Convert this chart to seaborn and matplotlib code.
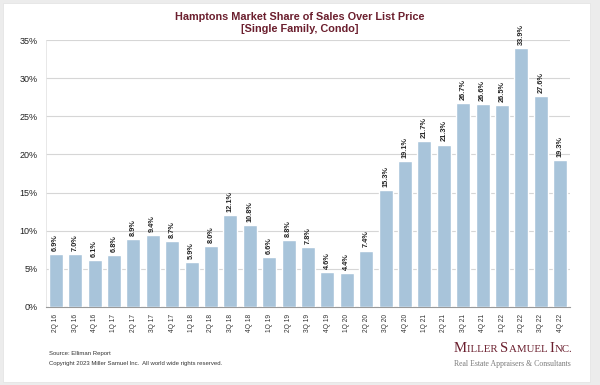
import numpy as np
import pandas as pd
import matplotlib
matplotlib.use("Agg")
import matplotlib.pyplot as plt
import seaborn as sns
from matplotlib.patches import Rectangle

# data
quarters = ['2Q 16', '3Q 16', '4Q 16', '1Q 17', '2Q 17', '3Q 17', '4Q 17', '1Q 18', '2Q 18',
            '3Q 18', '4Q 18', '1Q 19', '2Q 19', '3Q 19', '4Q 19', '1Q 20', '2Q 20', '3Q 20',
            '4Q 20', '1Q 21', '2Q 21', '3Q 21', '4Q 21', '1Q 22', '2Q 22', '3Q 22', '4Q 22']
share = [6.9, 7.0, 6.1, 6.8, 8.9, 9.4, 8.7, 5.9, 8.0,
         12.1, 10.8, 6.6, 8.8, 7.8, 4.6, 4.4, 7.4, 15.3,
         19.1, 21.7, 21.3, 26.7, 26.6, 26.5, 33.9, 27.6, 19.3]
y_ticks = [0, 5, 10, 15, 20, 25, 30, 35]

df = pd.DataFrame({'quarter': quarters, 'share': share})

sns.set_theme(style='white')
plt.rcParams['font.family'] = ['Liberation Sans', 'DejaVu Sans']
serif = ['Liberation Serif', 'DejaVu Serif']
maroon = '#6b1f2e'

fig = plt.figure(figsize=(6, 3.85), dpi=100)
fig.patch.set_facecolor('#ececec')
fig.patches.append(Rectangle((3 / 600, 3 / 385), 587 / 600, 379 / 385, transform=fig.transFigure,
                             facecolor='white', edgecolor='#e2e2e2', lw=0.5, zorder=-5))

ax = fig.add_axes([46 / 600, 78 / 385, 524 / 600, 267 / 385])
ax.set_facecolor('white')
sns.barplot(data=df, x='quarter', y='share', color='#a8c4da', saturation=1, width=0.72, ax=ax, zorder=3)

ax.set_ylim(0, 35)
ax.set_xlim(-0.5, len(quarters) - 0.5)
ax.set_yticks(y_ticks)
ax.set_yticklabels([f'{t}%' for t in y_ticks], fontsize=6.5, color='#222222')
ax.yaxis.grid(True, color='#d6d6d6', lw=0.8, zorder=0)
ax.set_axisbelow(True)
ax.set_xticks(range(len(quarters)))
ax.set_xticklabels(quarters, rotation=90, fontsize=4.8, color='#333333')
ax.tick_params(axis='x', length=0, pad=5)
ax.tick_params(axis='y', length=0, pad=6)
# minor ticks between bars
ax.set_xticks(np.arange(-0.5, len(quarters), 1), minor=True)
ax.tick_params(axis='x', which='minor', length=3, color='#999999', width=0.6)
ax.set_xlabel('')
ax.set_ylabel('')
for s in ['top', 'right']:
    ax.spines[s].set_visible(False)
ax.spines['left'].set_color('#e4e4e4')
ax.spines['left'].set_linewidth(0.6)
ax.spines['bottom'].set_color('#999999')
ax.spines['bottom'].set_linewidth(0.8)

for i, v in enumerate(share):
    ax.text(i, v + 0.4, f'{v:.1f}%', rotation=90, ha='center', va='bottom',
            fontsize=5.3, fontweight='bold', color='#222222', zorder=4)

fig.text(0.5, 1 - 17 / 385, 'Hamptons Market Share of Sales Over List Price', ha='center', va='center',
         fontsize=7.8, fontweight='bold', color=maroon)
fig.text(0.5, 1 - 29 / 385, '[Single Family, Condo]', ha='center', va='center',
         fontsize=7.8, fontweight='bold', color=maroon)

fig.text(49 / 600, 1 - 354 / 385, 'Source: Elliman Report', fontsize=4.3, color='#333333', va='center')
fig.text(49 / 600, 1 - 364 / 385, 'Copyright 2023 Miller Samuel Inc.  All world wide rights reserved.',
         fontsize=4.3, color='#333333', va='center')

# small-caps logo, laid out piece by piece from the left
renderer = fig.canvas.get_renderer()
logo_parts = [('M', 10.5), ('ILLER ', 7.8), ('S', 10.5), ('AMUEL ', 7.8), ('I', 10.5), ('NC.', 7.8)]
x_px = 454
for part, size in logo_parts:
    t = fig.text(x_px / 600, 1 - 352 / 385, part, ha='left', va='baseline',
                 fontsize=size, color=maroon, family=serif)
    x_px += t.get_window_extent(renderer).width
fig.text(454 / 600, 1 - 364 / 385, 'Real Estate Appraisers & Consultants', ha='left', va='center',
         fontsize=5.6, color='#7a7a7a', family=serif)

fig.savefig('out.png', dpi=100, facecolor=fig.get_facecolor())
